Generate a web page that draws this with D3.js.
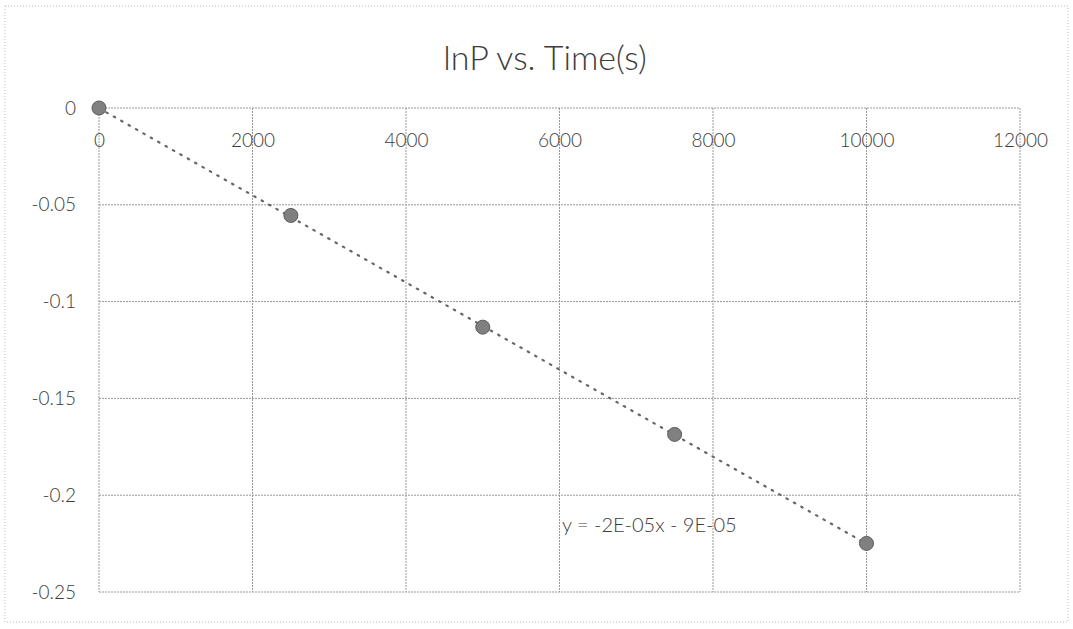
<!doctype html>
<meta charset="utf-8">
<title>lnP vs. Time(s)</title>
<script src="https://cdn.jsdelivr.net/npm/d3@7"></script>
<style>
body { margin: 0; background: #fff; }
svg text { font-family: Lato, "Open Sans", sans-serif; fill: #3c3c3c; font-weight: 300; }
.grid line { stroke: #999; stroke-dasharray: 2,1; stroke-width: 1; }
</style>
<svg id="chart" width="1073" height="629"></svg>
<script>
var times = [0, 2500, 5000, 7500, 10000];
var lnP = [0, -0.0555, -0.1132, -0.1686, -0.2249];
var xTicks = [0, 2000, 4000, 6000, 8000, 10000, 12000];
var yTicks = [0, -0.05, -0.1, -0.15, -0.2, -0.25];
var slope = -2.25e-5, intercept = -9e-5;
var equation = "y = -2E-05x - 9E-05";

var svg = d3.select("#chart");
var x = d3.scaleLinear().domain([0, 12000]).range([99, 1020]);
var y = d3.scaleLinear().domain([0, -0.25]).range([108, 592]);

// outer frame, faint like the scan
svg.append("rect")
  .attr("x", 5).attr("y", 6).attr("width", 1063).attr("height", 616)
  .attr("fill", "none").attr("stroke", "#bbb").attr("stroke-dasharray", "1,2");

svg.append("text")
  .attr("x", 545).attr("y", 70)
  .attr("text-anchor", "middle")
  .style("font-size", "34px")
  .text("lnP vs. Time(s)");

var grid = svg.append("g").attr("class", "grid");
grid.selectAll("line.h").data(yTicks).enter().append("line")
  .attr("class", "h")
  .attr("x1", x(0)).attr("x2", x(12000))
  .attr("y1", function(d) { return y(d); })
  .attr("y2", function(d) { return y(d); });
grid.selectAll("line.v").data(xTicks).enter().append("line")
  .attr("class", "v")
  .attr("y1", y(0)).attr("y2", y(-0.25))
  .attr("x1", function(d) { return x(d); })
  .attr("x2", function(d) { return x(d); });

// x labels sit below the zero line
var xAxis = d3.axisBottom(x).tickValues(xTicks).tickSize(0).tickPadding(26)
  .tickFormat(d3.format("d"));
svg.append("g")
  .attr("transform", "translate(0," + y(0) + ")")
  .call(xAxis)
  .call(function(g) { g.select(".domain").remove(); })
  .selectAll("text").style("font-size", "19px").attr("fill", "#3c3c3c");

var yAxis = d3.axisLeft(y).tickValues(yTicks).tickSize(0).tickPadding(23)
  .tickFormat(function(d) { return d === 0 ? "0" : String(d); });
svg.append("g")
  .attr("transform", "translate(" + x(0) + ",0)")
  .call(yAxis)
  .call(function(g) { g.select(".domain").remove(); })
  .selectAll("text").style("font-size", "19px").attr("fill", "#3c3c3c");

// linear trendline
svg.append("line")
  .attr("x1", x(0)).attr("y1", y(intercept))
  .attr("x2", x(10000)).attr("y2", y(intercept + slope * 10000))
  .attr("stroke", "#666").attr("stroke-width", 2.2)
  .attr("stroke-dasharray", "1.5,7").attr("stroke-linecap", "round");

svg.selectAll("circle").data(times).enter().append("circle")
  .attr("cx", function(d) { return x(d); })
  .attr("cy", function(d, i) { return y(lnP[i]); })
  .attr("r", 7)
  .attr("fill", "#808080")
  .attr("stroke", "#5a5a5a").attr("stroke-width", 1);

svg.append("text")
  .attr("x", 562).attr("y", 532)
  .style("font-size", "20px")
  .text(equation);
</script>
